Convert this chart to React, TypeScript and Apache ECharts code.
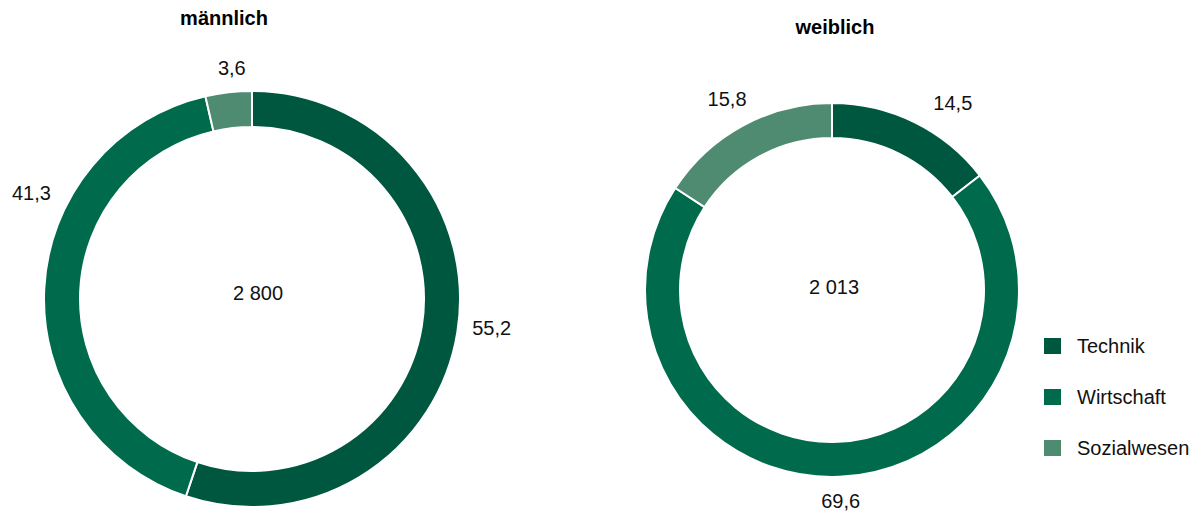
import React, { useEffect, useRef } from "react";
import * as echarts from "echarts";

const categories = ["Technik", "Wirtschaft", "Sozialwesen"];
const maleShares = [55.2, 41.3, 3.6];
const femaleShares = [14.5, 69.6, 15.8];
const groupTitles = ["männlich", "weiblich"];
const totals = [2800, 2013];
const colors = ["#00573F", "#006B4C", "#4F8B70"];

const FONT = "'Liberation Sans', Arial, sans-serif";

const fmtTotal = (v: number) => String(v).replace(/\B(?=(\d{3})+(?!\d))/g, " ");
const fmtShare = (v: number) => v.toFixed(1).replace(".", ",");

export default function App() {
  const ref = useRef<HTMLDivElement>(null);
  useEffect(() => {
    document.body.style.margin = "0";
    const chart = echarts.init(ref.current!, null, { renderer: "svg" });

    const makeLayout = (nudges: Record<number, [number, number]>) => (params: any) => {
      const pts = params.labelLinePoints;
      if (!pts || pts.length < 2) return {};
      const [p1, p2] = pts;
      let dx = p2[0] - p1[0];
      let dy = p2[1] - p1[1];
      const len = Math.hypot(dx, dy) || 1;
      dx /= len;
      dy /= len;
      const w = params.labelRect.width;
      const h = params.labelRect.height;
      const d = 13 + (Math.abs(dx) * w) / 2 + (Math.abs(dy) * h) / 2;
      const n = nudges[params.dataIndex] || [0, 0];
      return {
        x: p1[0] + dx * d + n[0],
        y: p1[1] + dy * d + n[1],
        align: "center",
        verticalAlign: "middle",
      };
    };

    const pieBase = {
      type: "pie",
      startAngle: 90,
      clockwise: true,
      avoidLabelOverlap: false,
      itemStyle: { borderColor: "#ffffff", borderWidth: 2 },
      label: {
        show: true,
        position: "outside",
        color: "#111111",
        fontSize: 20,
        fontFamily: FONT,
        formatter: (p: any) => fmtShare(p.value),
      },
      labelLine: { show: true, length: 12, length2: 0, lineStyle: { opacity: 0 } },
      emphasis: { disabled: true },
    };

    chart.setOption({
      animation: false,
      color: colors,
      legend: {
        orient: "vertical",
        left: 1037,
        top: 331,
        itemWidth: 19,
        itemHeight: 18,
        itemGap: 31,
        icon: "rect",
        data: categories,
        textStyle: { fontSize: 20, fontFamily: FONT, color: "#111111", lineHeight: 18, padding: [0, 0, 0, 10] },
      },
      graphic: [
        { type: "text", x: 224, y: 18, style: { text: groupTitles[0], font: `bold 20px ${FONT}`, fill: "#000", textAlign: "center", textVerticalAlign: "middle" } },
        { type: "text", x: 835, y: 27, style: { text: groupTitles[1], font: `bold 20px ${FONT}`, fill: "#000", textAlign: "center", textVerticalAlign: "middle" } },
        { type: "text", x: 258, y: 293, style: { text: fmtTotal(totals[0]), font: `20px ${FONT}`, fill: "#111111", textAlign: "center", textVerticalAlign: "middle" } },
        { type: "text", x: 834, y: 287, style: { text: fmtTotal(totals[1]), font: `20px ${FONT}`, fill: "#111111", textAlign: "center", textVerticalAlign: "middle" } },
      ],
      series: [
        {
          ...pieBase,
          name: groupTitles[0],
          center: [252, 299],
          radius: [172, 208],
          labelLayout: makeLayout({ 0: [1, -10], 1: [20, -94], 2: [6, 0] }),
          data: categories.map((c, i) => ({ name: c, value: maleShares[i] })),
        },
        {
          ...pieBase,
          name: groupTitles[1],
          center: [832, 290],
          radius: [152, 187],
          labelLayout: makeLayout({ 0: [25, 8], 2: [-1, 1] }),
          data: categories.map((c, i) => ({ name: c, value: femaleShares[i] })),
        },
      ],
    });
    return () => chart.dispose();
  }, []);
  return <div ref={ref} style={{ width: 1204, height: 516 }} />;
}
